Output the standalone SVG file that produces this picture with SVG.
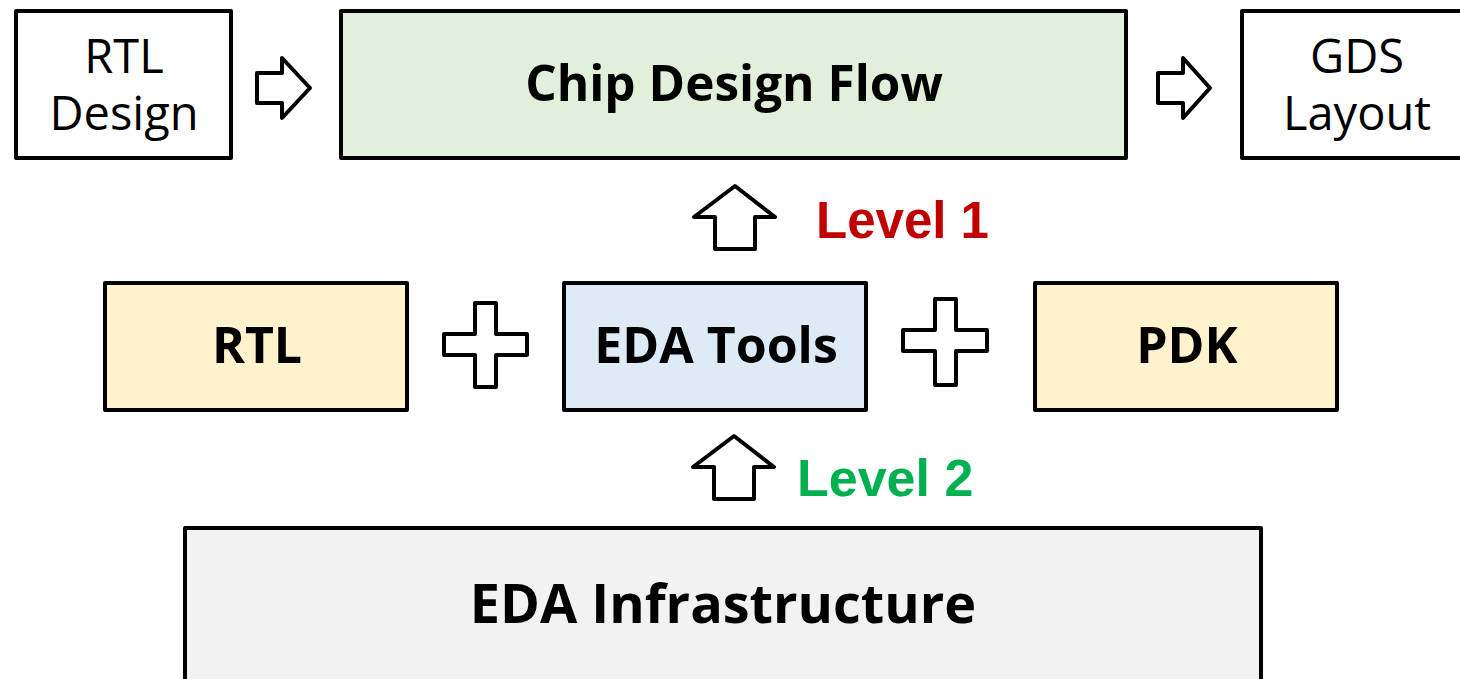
<svg xmlns="http://www.w3.org/2000/svg" width="1460" height="679" viewBox="0 0 1460 679">
  <style>
    .box { stroke: #000; stroke-width: 4; stroke-linejoin: round; }
    .sym { fill: #fff; stroke: #000; stroke-width: 4; stroke-linejoin: round; }
    .reg { font-family: "Open Sans", "Noto Sans", "DejaVu Sans", sans-serif; font-size: 47px; fill: #000; text-anchor: middle; }
    .bold { font-family: "Open Sans", "Noto Sans", "DejaVu Sans", sans-serif; font-weight: bold; font-size: 50px; fill: #000; text-anchor: middle; }
    .lvl { font-family: "Liberation Sans", Arial, sans-serif; font-weight: bold; font-size: 51px; }
  </style>
  <rect width="1460" height="679" fill="#fff"/>

  <!-- top row -->
  <g id="rtl-design">
    <rect class="box" x="16" y="11" width="215" height="147" fill="#fff"/>
    <text class="reg" x="124" y="73">RTL</text>
    <text class="reg" x="124" y="130">Design</text>
  </g>
  <g id="chip-design-flow">
    <rect class="box" x="341" y="11" width="785" height="147" fill="#E2EFDA"/>
    <text class="bold" x="734" y="101" style="font-size:49.5px">Chip Design Flow</text>
  </g>
  <g id="gds-layout">
    <rect class="box" x="1242" y="11" width="230" height="147" fill="#fff"/>
    <text class="reg" x="1357" y="73">GDS</text>
    <text class="reg" x="1357" y="130">Layout</text>
  </g>

  <!-- middle row -->
  <g id="rtl">
    <rect class="box" x="105" y="283" width="302" height="127" fill="#FFF2CC"/>
    <text class="bold" x="257" y="363">RTL</text>
  </g>
  <g id="eda-tools">
    <rect class="box" x="564" y="283" width="302" height="127" fill="#DEEBF7"/>
    <text class="bold" x="716" y="363">EDA Tools</text>
  </g>
  <g id="pdk">
    <rect class="box" x="1035" y="283" width="302" height="127" fill="#FFF2CC"/>
    <text class="bold" x="1187" y="363">PDK</text>
  </g>

  <!-- bottom -->
  <g id="eda-infrastructure">
    <rect class="box" x="185" y="528" width="1076" height="160" fill="#F2F2F2"/>
    <text class="bold" x="723" y="623" style="font-size:54px">EDA Infrastructure</text>
  </g>

  <!-- connectors -->
  <g id="connectors">
    <path class="sym" d="M257,73 H282 V58 L310,88 L282,118 V103 H257 Z"/>
    <path class="sym" d="M1158,73 H1183 V58 L1210,88 L1183,118 V103 H1158 Z"/>
    <path class="sym" d="M735,186 L775,217 H755 V249 H715 V217 H694 Z"/>
    <path class="sym" d="M734,436 L774,467 H754 V499 H714 V467 H693 Z"/>
    <path class="sym" d="M475,303 H496 V334 H527 V355 H496 V387 H475 V355 H444 V334 H475 Z"/>
    <path class="sym" d="M935,299 H956 V330 H987 V351 H956 V385 H935 V351 H903 V330 H935 Z"/>
  </g>

  <!-- level labels -->
  <g id="labels">
    <text class="lvl" x="816" y="238" fill="#C00000">Level 1</text>
    <text class="lvl" x="797" y="496" fill="#00B050" style="font-size:52px">Level 2</text>
  </g>
</svg>
